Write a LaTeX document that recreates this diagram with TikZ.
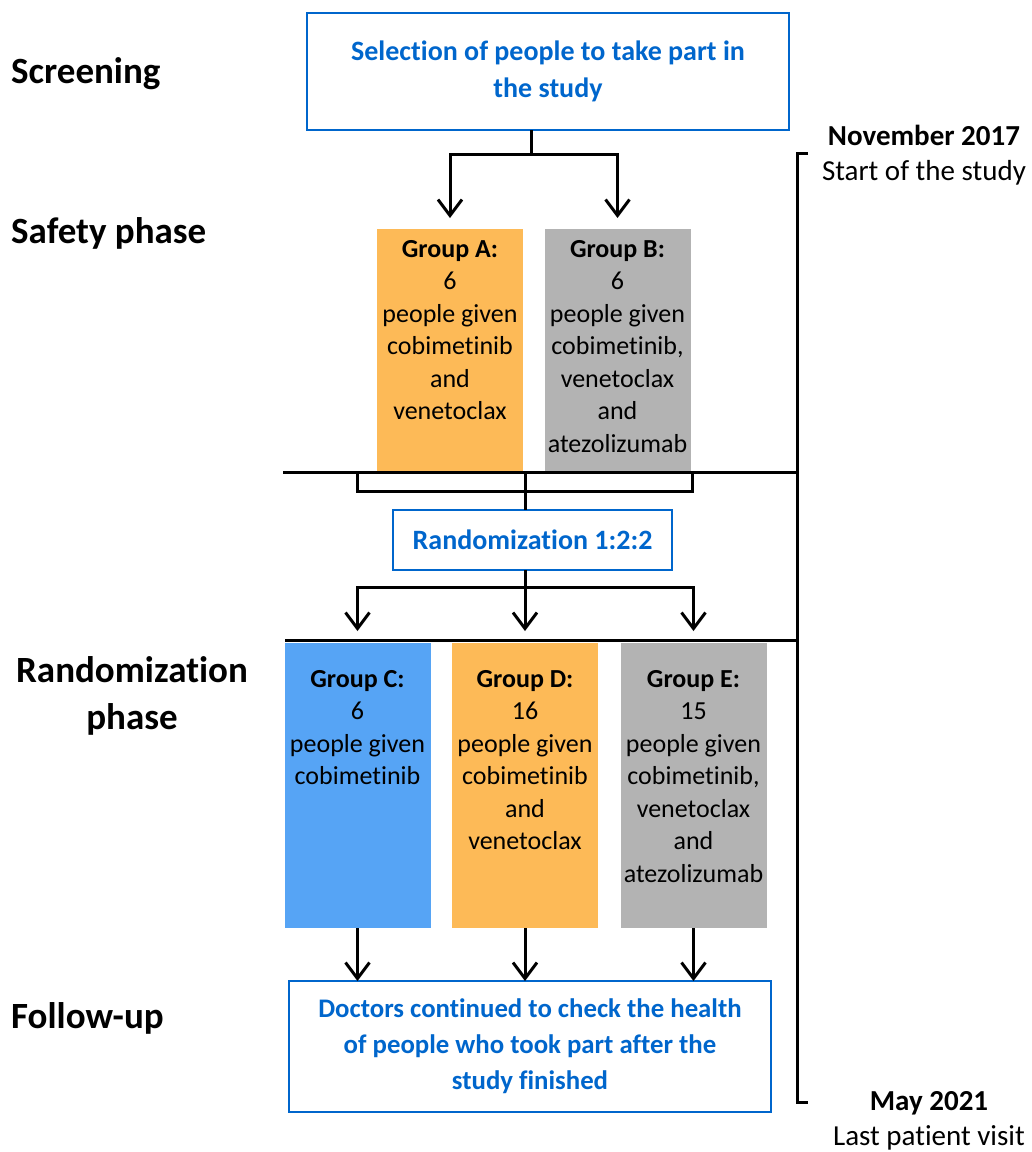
\documentclass[tikz,border=0pt]{standalone}
\usepackage{fontspec}
\setmainfont[RawFeature={-liga;-clig}]{Carlito}
\usetikzlibrary{arrows.meta}
\definecolor{myblue}{RGB}{0,102,204}
\definecolor{orangefill}{RGB}{253,186,87}
\definecolor{grayfill}{RGB}{179,179,179}
\definecolor{bluefill}{RGB}{86,164,245}
\begin{document}
\begin{tikzpicture}[x=1pt,y=-1pt,
  bluebox/.style={draw=myblue, line width=2.5pt, inner sep=0pt, outer sep=0pt,
    font=\fontsize{28}{37}\selectfont\bfseries, text=myblue, align=center},
  grpbox/.style={inner sep=0pt, outer sep=0pt, minimum width=146pt},
  grptext/.style={font=\fontsize{26}{32.5}\selectfont, align=center, anchor=north, inner sep=0pt},
  conn/.style={line width=3pt},
  arr/.style={line width=3pt, -{Straight Barb[length=16pt,width=24pt]}},
  phaselbl/.style={font=\fontsize{37}{47}\selectfont\bfseries, inner sep=0pt},
  rtbold/.style={font=\fontsize{29}{35}\selectfont\bfseries, anchor=base, inner sep=0pt},
  rtreg/.style={font=\fontsize{29}{35}\selectfont, anchor=base, inner sep=0pt},
]
\useasboundingbox (0,0) rectangle (1032,1152);

% phase labels
\node[phaselbl, anchor=base west] (lscr) at (11,83) {Screening};
\node[phaselbl, anchor=base west] (lsaf) at (11,243) {Safety phase};
\node[phaselbl, anchor=north, align=center] (lran) at (132,656) {Randomization\\phase};
\node[phaselbl, anchor=base west] (lfol) at (11,1028) {Follow-up};

% right timeline labels
\node[rtbold] (nov) at (924,145) {November 2017};
\node[rtreg] (start) at (924,180) {Start of the study};
\node[rtbold] (may) at (929,1110) {May 2021};
\node[rtreg] (last) at (929,1145) {Last patient visit};

% timeline bracket
\coordinate (bt1) at (808,153);
\coordinate (bt2) at (797,153);
\coordinate (bb2) at (797,1102);
\coordinate (bb1) at (808,1102);
\draw[conn] (bt1) -- (bt2) -- (bb2) -- (bb1);

% boxes
\node[bluebox, minimum width=482pt, minimum height=117pt] (top) at (548,71.5)
  {Selection of people to take part in\\the study};

\node[grpbox, fill=orangefill, minimum height=243pt] (A) at (450,350.5) {};
\node[grpbox, fill=grayfill, minimum height=243pt] (B) at (617.5,350.5) {};
\node[grptext] (At) at ([yshift=-11pt]A.north) {\textbf{Group A:}\\6\\people given\\cobimetinib\\and\\venetoclax};
\node[grptext] (Bt) at ([yshift=-11pt]B.north) {\textbf{Group B:}\\6\\people given\\cobimetinib,\\venetoclax\\and\\atezolizumab};

\node[bluebox, minimum width=279pt, minimum height=60pt] (rand) at (532.5,540) {Randomization 1:2:2};

\node[grpbox, fill=bluefill, minimum height=285pt] (C) at (357.5,785.5) {};
\node[grpbox, fill=orangefill, minimum height=285pt] (D) at (525,785.5) {};
\node[grpbox, fill=grayfill, minimum height=285pt] (E) at (693.5,785.5) {};
\node[grptext] (Ct) at ([yshift=-27pt]C.north) {\textbf{Group C:}\\6\\people given\\cobimetinib};
\node[grptext] (Dt) at ([yshift=-27pt]D.north) {\textbf{Group D:}\\16\\people given\\cobimetinib\\and\\venetoclax};
\node[grptext] (Et) at ([yshift=-27pt]E.north) {\textbf{Group E:}\\15\\people given\\cobimetinib,\\venetoclax\\and\\atezolizumab};

\node[bluebox, minimum width=482pt, minimum height=131pt, font=\fontsize{26.8}{36}\selectfont\bfseries] (fin) at (530,1046.5)
  {Doctors continued to check the health\\of people who took part after the\\study finished};

% phase separators
\coordinate (s1l) at (283,472);
\coordinate (s2l) at (285,640);
\draw[conn] (s1l) -- (s1l -| bt2);
\draw[conn] (s2l) -- (s2l -| bt2);

% top -> A, B
\coordinate (stemtop) at ([xshift=-17pt]top.south);
\coordinate (split1) at ([yshift=-24pt]stemtop);
\draw[conn] (stemtop) -- (split1);
\draw[arr] (split1) -| ([yshift=11pt]A.north);
\draw[arr] (split1) -| ([yshift=11pt]B.north);

% A, B -> rand
\coordinate (jA) at (357,472);
\coordinate (jB) at (692,472);
\coordinate (jbar) at (357,491);
\coordinate (jmid) at (525,472);
\draw[conn] (jA) |- (jB |- jbar) -- (jB);
\draw[conn] (jmid) -- (jmid |- rand.north);

% rand -> C, D, E
\coordinate (stemr) at (jmid |- rand.south);
\coordinate (split2) at ([yshift=-17pt]stemr);
\draw[conn] (stemr) -- (split2);
\draw[arr] (split2) -| ([yshift=12pt]C.north);
\draw[arr] (split2) -- ([yshift=12pt]D.north);
\draw[arr] (split2) -| ([yshift=12pt]E.north);

% C, D, E -> fin
\draw[arr] (C.south) -- (C.south |- fin.north);
\draw[arr] (D.south) -- (D.south |- fin.north);
\draw[arr] (E.south) -- (E.south |- fin.north);
\end{tikzpicture}
\end{document}
